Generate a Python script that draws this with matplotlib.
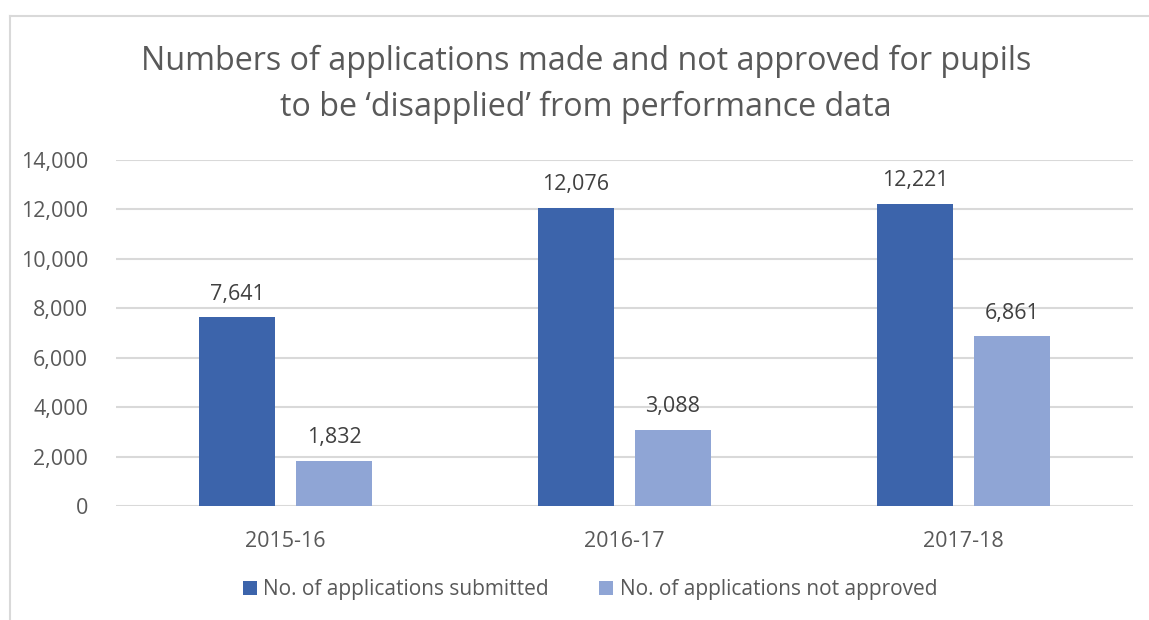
import matplotlib
matplotlib.use("Agg")
import matplotlib.pyplot as plt
from matplotlib.patches import Patch
from matplotlib.lines import Line2D
import numpy as np

categories = ["2015-16", "2016-17", "2017-18"]
submitted = [7641, 12076, 12221]
not_approved = [1832, 3088, 6861]
series_names = ["No. of applications submitted", "No. of applications not approved"]
yticks = [0, 2000, 4000, 6000, 8000, 10000, 12000, 14000]
title_lines = ["Numbers of applications made and not approved for pupils",
               "to be \u2018disapplied\u2019 from performance data"]

W, H = 1149, 620
plt.rcParams['font.family'] = ['Open Sans', 'DejaVu Sans']
TXT = '#595959'
LBL = '#404040'
C1 = '#3C64AB'
C2 = '#8FA5D5'
GRID = '#D9D9D9'

fig = plt.figure(figsize=(W/100, H/100), dpi=100)
fig.patch.set_facecolor('white')

# chart border (only left and top visible)
fig.add_artist(Line2D([10/W, 10/W], [0, 1 - 16/H], color=GRID, lw=1.5, transform=fig.transFigure))
fig.add_artist(Line2D([10/W, 1], [1 - 16/H, 1 - 16/H], color=GRID, lw=1.5, transform=fig.transFigure))

ax = fig.add_axes([116/W, 114/H, (1133-116)/W, 346/H])
x = np.arange(len(categories))
bw = 0.224
off = 0.143
b1 = ax.bar(x - off, submitted, bw, color=C1, zorder=3)
b2 = ax.bar(x + off, not_approved, bw, color=C2, zorder=3)

ax.set_xlim(-0.5, len(categories) - 0.5)
ax.set_ylim(0, 14000)
ax.set_yticks(yticks)
ax.set_yticklabels([f"{v:,}" for v in yticks])
ax.set_xticks(x)
ax.set_xticklabels(categories)
ax.tick_params(axis='both', length=0, labelsize=15.5, labelcolor=TXT)
ax.tick_params(axis='y', pad=20)
ax.tick_params(axis='x', pad=18)
ax.grid(axis='y', color=GRID, lw=1.5, zorder=0)
for s in ax.spines.values():
    s.set_visible(False)

for bars, vals in ((b1, submitted), (b2, not_approved)):
    for r, v in zip(bars, vals):
        ax.annotate(f"{v:,}", (r.get_x() + r.get_width()/2, v), xytext=(0, 9),
                    textcoords='offset points', ha='center', va='bottom',
                    fontsize=15.5, color=LBL)

fig.text(586/W, 1 - 61/H, title_lines[0], ha='center', va='center', fontsize=23.2, color=TXT)
fig.text(586/W, 1 - 107/H, title_lines[1], ha='center', va='center', fontsize=23.2, color=TXT)

handles = [Patch(facecolor=C1), Patch(facecolor=C2)]
fig.legend(handles, series_names, loc='center', bbox_to_anchor=(590/W, 1 - 590/H),
           ncol=2, frameon=False, fontsize=15, labelcolor=TXT,
           handlelength=0.67, handleheight=0.67, handletextpad=0.33, columnspacing=2.4)

fig.savefig("out.png", dpi=100)
